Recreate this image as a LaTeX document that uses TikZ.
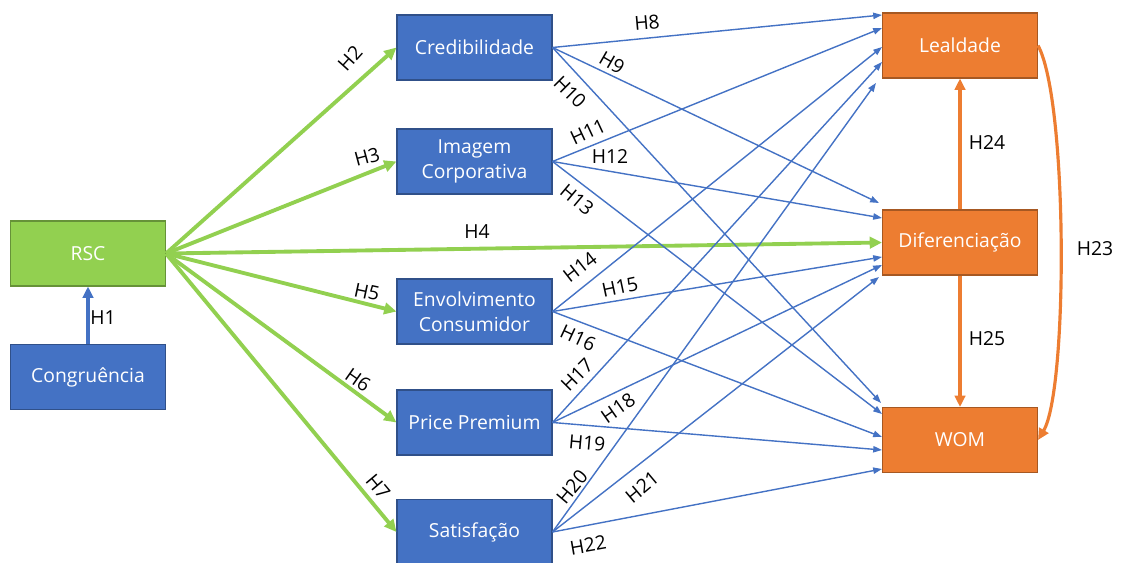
\documentclass[tikz,border=0pt]{standalone}
\usepackage{fontspec}
\setmainfont{Open Sans}
\usetikzlibrary{arrows.meta,calc}

\definecolor{boxblue}{HTML}{4472C4}
\definecolor{boxgreen}{HTML}{92D050}
\definecolor{boxorange}{HTML}{ED7D31}

\tikzset{
	box/.style={rectangle, draw=#1!70!black, fill=#1, text=white, line width=0.6pt,
		minimum width=3.1cm, minimum height=1.3cm, inner sep=1pt, align=center,
		font=\fontsize{11}{14}\selectfont},
	lbl/.style={inner sep=0pt, font=\fontsize{11}{13}\selectfont},
	rsc/.style={draw=boxgreen, line width=2.2pt, -{Triangle[length=7pt,width=6.5pt]}},
	hyp/.style={draw=boxblue, line width=0.8pt, -{Triangle[length=5pt,width=3.6pt]}},
	res/.style={draw=boxorange, line width=1.8pt, -{Triangle[length=6.5pt,width=6pt]}}
}

\begin{document}
\begin{tikzpicture}[x=0.02cm,y=-0.02cm]
	\useasboundingbox (0,0) rectangle (1125,563);
	% boxes
	\node[box=boxgreen] (rsc) at (88,253.5) {RSC};
	\node[box=boxblue] (cong) at (88,377) {Congruência};
	\node[box=boxblue] (cred) at (474.5,47.5) {Credibilidade};
	\node[box=boxblue] (img) at (474.5,161.5) {Imagem\\Corporativa};
	\node[box=boxblue] (env) at (474.5,311.5) {Envolvimento\\Consumidor};
	\node[box=boxblue] (pp) at (474.5,422.5) {Price Premium};
	\node[box=boxblue] (sat) at (474.5,532) {Satisfação};
	\node[box=boxorange] (lea) at (960,45.5) {Lealdade};
	\node[box=boxorange] (dif) at (960,242.5) {Diferenciação};
	\node[box=boxorange] (wom) at (960,440) {WOM};

	% congruence and RSC
	\draw[res, draw=boxblue] (cong) -- (rsc);
	\draw[rsc] (rsc.east) -- (cred.west);
	\draw[rsc] (rsc.east) -- (img.west);
	\draw[rsc] (rsc.east) -- (dif.west);
	\draw[rsc] (rsc.east) -- (env.west);
	\draw[rsc] (rsc.east) -- (pp.west);
	\draw[rsc] (rsc.east) -- (sat.west);

	% antecedents to outcomes
	\draw[hyp] (cred.east) -- ($(lea.west)+(0,-30.5)$);
	\draw[hyp] (cred.east) -- ($(dif.west)+(-3,-39.5)$);
	\draw[hyp] (cred.east) -- ($(wom.west)+(-1,-37)$);
	\draw[hyp] (img.east) -- ($(lea.west)+(0,-17.5)$);
	\draw[hyp] (img.east) -- ($(dif.west)+(0,-24.5)$);
	\draw[hyp] (img.east) -- ($(wom.west)+(0,-26)$);
	\draw[hyp] (env.east) -- ($(lea.west)+(0,1.5)$);
	\draw[hyp] (env.east) -- ($(dif.west)+(0,14.5)$);
	\draw[hyp] (env.east) -- ($(wom.west)+(0,-3)$);
	\draw[hyp] (pp.east) -- ($(lea.west)+(0,16.5)$);
	\draw[hyp] (pp.east) -- ($(dif.west)+(0,22.5)$);
	\draw[hyp] (pp.east) -- ($(wom.west)+(0,10)$);
	\draw[hyp] (sat.east) -- ($(lea.west)+(-6,37.5)$);
	\draw[hyp] (sat.east) -- ($(dif.west)+(-3,34.5)$);
	\draw[hyp] (sat.east) -- ($(wom.west)+(0,29)$);

	% outcomes
	\draw[res] (dif) -- (lea);
	\draw[res] (dif) -- (wom);
	\draw[res] (lea.east) .. controls +(30,55) and +(30,-50) .. (wom.east);

	% labels
	\node[lbl] (h1) at (103,318) {H1};
	\node[lbl, rotate=48] (h2) at (350,58) {H2};
	\node[lbl, rotate=15] (h3) at (367,157) {H3};
	\node[lbl] (h4) at (477,232) {H4};
	\node[lbl, rotate=-12] (h5) at (367,292) {H5};
	\node[lbl, rotate=-35] (h6) at (358,380) {H6};
	\node[lbl, rotate=-50] (h7) at (378,487) {H7};
	\node[lbl, rotate=5] (h8) at (647,23) {H8};
	\node[lbl, rotate=-30] (h9) at (612,63) {H9};
	\node[lbl, rotate=-45] (h10) at (570,92) {H10};
	\node[lbl, rotate=25] (h11) at (588,132) {H11};
	\node[lbl] (h12) at (610,157) {H12};
	\node[lbl, rotate=-40] (h13) at (577,200) {H13};
	\node[lbl, rotate=38] (h14) at (580,267) {H14};
	\node[lbl, rotate=12] (h15) at (620,287) {H15};
	\node[lbl, rotate=-25] (h16) at (578,338) {H16};
	\node[lbl, rotate=45] (h17) at (577,375) {H17};
	\node[lbl, rotate=35] (h18) at (618,408) {H18};
	\node[lbl, rotate=-5] (h19) at (587,443) {H19};
	\node[lbl, rotate=50] (h20) at (572,487) {H20};
	\node[lbl, rotate=40] (h21) at (642,487) {H21};
	\node[lbl, rotate=10] (h22) at (588,545) {H22};
	\node[lbl] (h23) at (1095,249) {H23};
	\node[lbl] (h24) at (987,143) {H24};
	\node[lbl] (h25) at (987,339) {H25};
\end{tikzpicture}
\end{document}
